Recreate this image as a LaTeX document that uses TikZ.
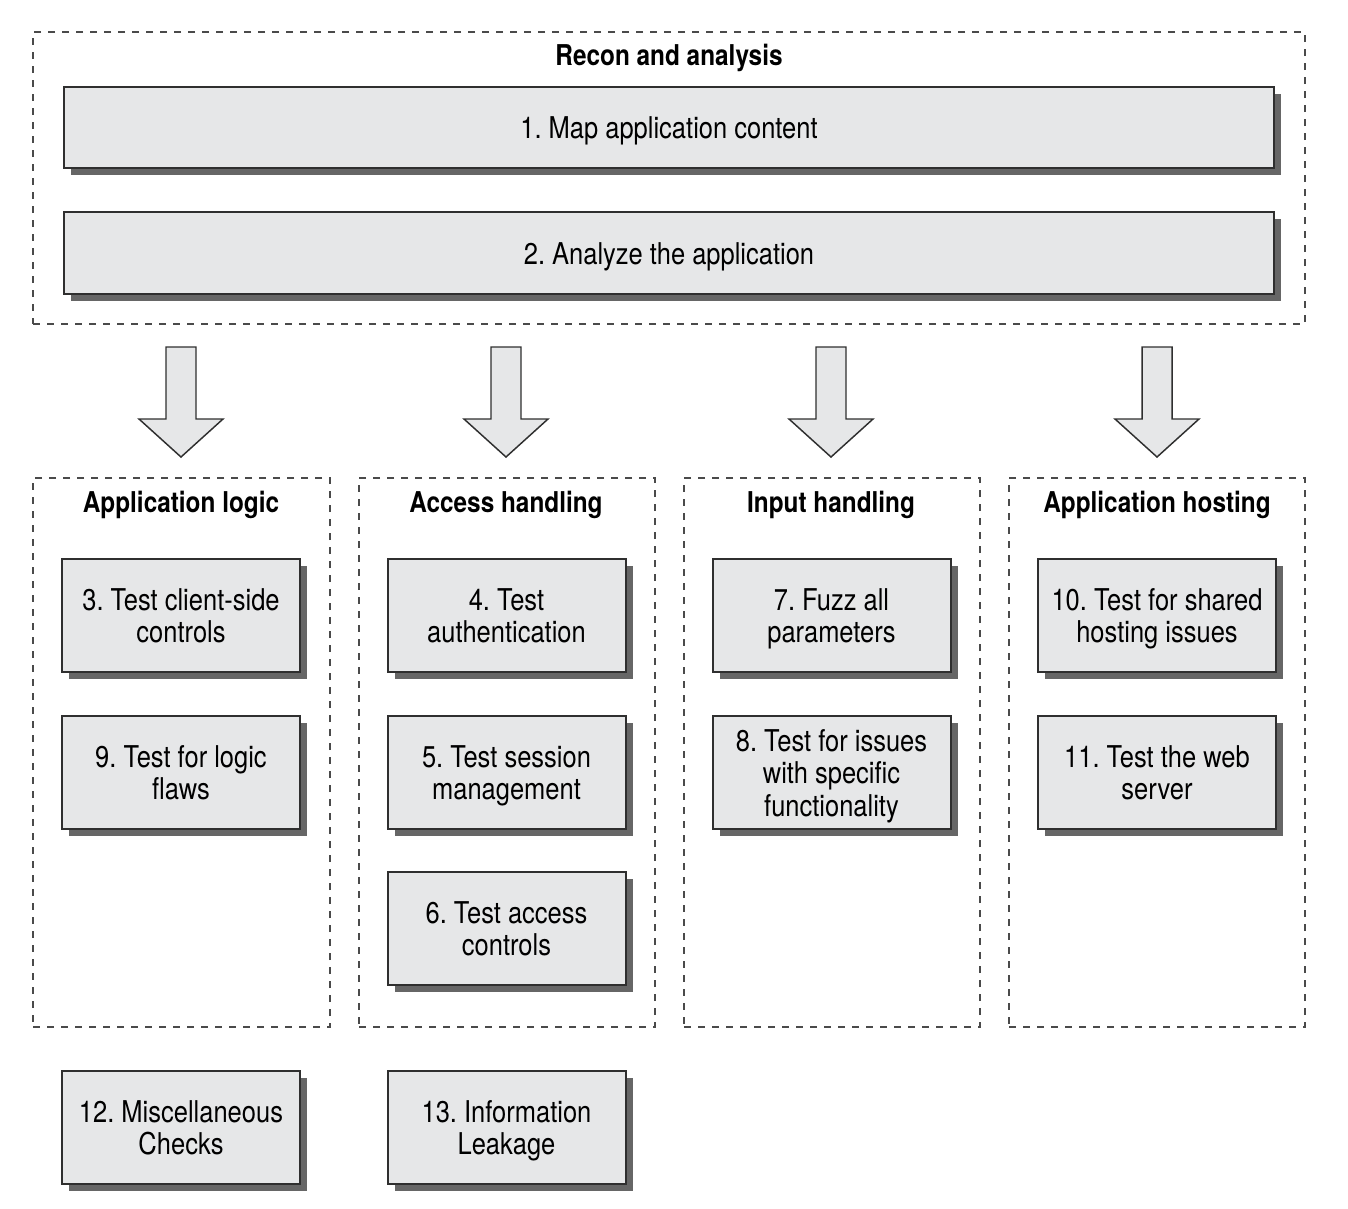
\documentclass[tikz,border=0pt]{standalone}
\usepackage{fontspec}
\setmainfont{TeX Gyre Heros}[FakeStretch=0.85]
\usetikzlibrary{shadows}
\definecolor{boxfill}{HTML}{E6E7E8}
\definecolor{boxline}{HTML}{2F2F2F}
\definecolor{shade}{HTML}{666666}
\definecolor{dashline}{HTML}{4A4A4A}
\frenchspacing
% centred stack of lines with even line spacing; extra head room nudges it down a little
\newcommand{\boxlines}[1]{\raisebox{0pt}[\dimexpr\height+7pt\relax]{\begin{tabular}{@{}c@{}}#1\end{tabular}}}
\begin{document}
\begin{tikzpicture}[x=0.75pt,y=-0.75pt,
  stepbox/.style={draw=boxline, fill=boxfill, line width=1.5pt,
    inner sep=0pt, font=\fontsize{22.5}{24.4}\selectfont,
    general shadow={fill=shade, shadow xshift=5.25pt, shadow yshift=-5.25pt}},
  widebox/.style={stepbox, minimum width=907.5pt, minimum height=61pt},
  smallbox/.style={stepbox, minimum width=178.5pt, minimum height=84.75pt},
  groupframe/.style={draw=dashline, line width=1.2pt, dash pattern=on 5.25pt off 5.25pt,
    inner sep=0pt},
  grouptitle/.style={font=\fontsize{21.5}{24}\selectfont\bfseries, inner sep=0pt},
  blockarrow/.pic={
    \draw[draw=boxline, fill=boxfill, line width=1.1pt, line join=miter]
      (-15,0) -- (15,0) -- (15,72) -- (42,72) -- (0,110) -- (-42,72) -- (-15,72) -- cycle;
  }]
  \useasboundingbox (0,0) rectangle (1348,1208);

  % Recon and analysis group
  \node[groupframe, minimum width=954pt, minimum height=219pt] (recon) at (669,178) {};
  \node[grouptitle] (recontitle) at (669,58) {Recon and analysis};
  \node[widebox] (s1) at (669,127.5) {\boxlines{1. Map application content}};
  \node[widebox] (s2) at (669,253) {\boxlines{2. Analyze the application}};

  % Four testing groups
  \node[groupframe, minimum width=222.75pt, minimum height=411.75pt] (g1) at (181.5,752.5) {};
  \node[groupframe, minimum width=222pt, minimum height=411.75pt] (g2) at (507,752.5) {};
  \node[groupframe, minimum width=222pt, minimum height=411.75pt] (g3) at (832,752.5) {};
  \node[groupframe, minimum width=222pt, minimum height=411.75pt] (g4) at (1157,752.5) {};
  \node[grouptitle] (t1) at (181,505) {Application logic};
  \node[grouptitle] (t2) at (506,505) {Access handling};
  \node[grouptitle] (t3) at (831,505) {Input handling};
  \node[grouptitle] (t4) at (1157,505) {Application hosting};

  % Block arrows from the recon group down to each testing group
  \foreach \ax/\name in {181/a1, 506/a2, 831/a3, 1157/a4} {
    \coordinate (\name) at (\ax,347);
    \pic at (\name) {blockarrow};
  }

  % Application logic
  \node[smallbox] (s3) at (181,615.5) {\boxlines{3. Test client-side\\controls}};
  \node[smallbox] (s9) at (181,772.5) {\boxlines{9. Test for logic\\flaws}};
  % Access handling
  \node[smallbox] (s4) at (506.5,615.5) {\boxlines{4. Test\\authentication}};
  \node[smallbox] (s5) at (506.5,772.5) {\boxlines{5. Test session\\management}};
  \node[smallbox] (s6) at (506.5,928.5) {\boxlines{6. Test access\\controls}};
  % Input handling
  \node[smallbox] (s7) at (831.5,615.5) {\boxlines{7. Fuzz all\\parameters}};
  \node[smallbox] (s8) at (831.5,772.5) {\boxlines{8. Test for issues\\with specific\\functionality}};
  % Application hosting
  \node[smallbox] (s10) at (1157,615.5) {\boxlines{10. Test for shared\\hosting issues}};
  \node[smallbox] (s11) at (1157,772.5) {\boxlines{11. Test the web\\server}};

  % Standalone checks
  \node[smallbox] (s12) at (181,1127.5) {\boxlines{12. Miscellaneous\\Checks}};
  \node[smallbox] (s13) at (506.5,1127.5) {\boxlines{13. Information\\Leakage}};
\end{tikzpicture}
\end{document}
